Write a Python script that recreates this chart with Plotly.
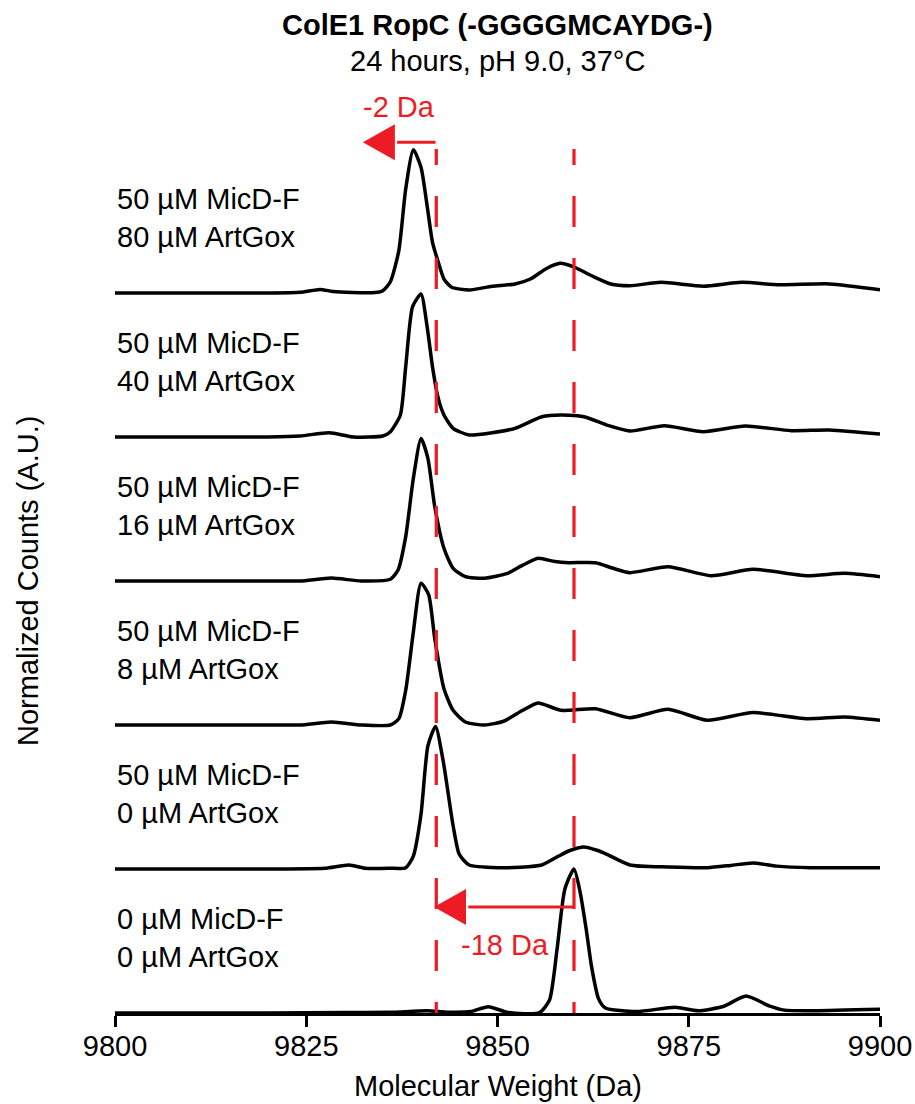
import plotly.graph_objects as go

# ---------------- data ----------------
X_RANGE = [9800, 9900]
TICKS = [9800, 9825, 9850, 9875, 9900]

LABELS = [
    "0 µM MicD-F<br>0 µM ArtGox",
    "50 µM MicD-F<br>0 µM ArtGox",
    "50 µM MicD-F<br>8 µM ArtGox",
    "50 µM MicD-F<br>16 µM ArtGox",
    "50 µM MicD-F<br>40 µM ArtGox",
    "50 µM MicD-F<br>80 µM ArtGox",
]
OFFSETS = [0, 1, 2, 3, 4, 5]

# 0 µM MicD-F / 0 µM ArtGox
mw_0 = [9800, 9810, 9820, 9830, 9836, 9840.8, 9843.5, 9846.5, 9848.8, 9851.4, 9855.5, 9856.8, 9857.8,
        9858.8, 9860.0, 9860.8, 9861.6, 9862.3, 9863.2, 9864.1, 9868.2, 9873.2, 9876.2, 9879.5, 9882.5,
        9885.5, 9887.5, 9891.5, 9900]
int_0 = [0, 0, 0, 0.003, 0.005, 0.015, 0.006, 0.010, 0.044, 0.003, 0.003, 0.09, 0.45,
         0.86, 1.0, 0.84, 0.58, 0.32, 0.10, 0.035, 0.010, 0.040, 0.016, 0.045, 0.118,
         0.050, 0.020, 0.016, 0.026]

# 50 µM MicD-F / 0 µM ArtGox
mw_1 = [9800, 9810, 9820, 9827.4, 9830.6, 9832.7, 9836.0, 9838.0, 9839.0, 9840.0, 9840.9, 9841.9,
        9842.9, 9844.2, 9845.0, 9846.3, 9850.3, 9853.0, 9855.8, 9858.0, 9859.3, 9861.3, 9863.0, 9864.3,
        9867.3, 9872.3, 9877.4, 9880.5, 9883.4, 9886.5, 9890.9, 9900]
int_1 = [0, 0, 0, 0.005, 0.028, 0.005, 0.005, 0.009, 0.09, 0.38, 0.854, 0.99,
         0.75, 0.30, 0.102, 0.028, 0.009, 0.012, 0.028, 0.09, 0.125, 0.153, 0.13, 0.102,
         0.028, 0.014, 0.009, 0.025, 0.042, 0.020, 0.009, 0.009]

# 50 µM MicD-F / 8 µM ArtGox
mw_2 = [9800, 9810, 9820, 9824.2, 9828.3, 9832.2, 9836.0, 9837.1, 9838.0, 9839.0, 9840.0, 9841.0,
        9841.8, 9843.0, 9844.2, 9845.8, 9848.3, 9850.8, 9853.3, 9855.3, 9858.3, 9862.8, 9867.3, 9872.3,
        9877.4, 9883.4, 9890.4, 9895.4, 9900]
int_2 = [0, 0, 0, 0, 0.02, 0, 0, 0.044, 0.241, 0.646, 0.985, 0.905,
         0.599, 0.252, 0.102, 0.021, 0, 0.026, 0.102, 0.153, 0.102, 0.113, 0.051, 0.109,
         0.033, 0.086, 0.044, 0.056, 0.033]

# 50 µM MicD-F / 16 µM ArtGox
mw_3 = [9800, 9810, 9820, 9824.2, 9828.3, 9832.2, 9836.0, 9837.0, 9838.0, 9839.0, 9840.0, 9840.9,
        9841.8, 9843.0, 9844.2, 9845.8, 9848.3, 9851.3, 9853.3, 9855.3, 9857.5, 9859.3, 9862.8, 9865.0,
        9867.3, 9872.3, 9877.9, 9883.4, 9890.4, 9895.4, 9900]
int_3 = [0, 0, 0, 0, 0.02, 0, 0.012, 0.076, 0.308, 0.713, 0.99, 0.852,
         0.516, 0.227, 0.088, 0.030, 0.019, 0.053, 0.11, 0.158, 0.135, 0.127, 0.127, 0.09,
         0.058, 0.099, 0.037, 0.081, 0.037, 0.053, 0.030]

# 50 µM MicD-F / 40 µM ArtGox
mw_4 = [9800, 9810, 9820, 9824.2, 9828.0, 9831.2, 9835.0, 9836.0, 9837.3, 9838.0, 9838.9, 9840.0,
        9840.8, 9841.5, 9842.2, 9843.0, 9844.2, 9846.3, 9849.3, 9852.3, 9855.8, 9858.3, 9861.3, 9864.3,
        9867.3, 9871.8, 9876.9, 9882.4, 9888.4, 9893.4, 9900]
int_4 = [0, 0, 0, 0.007, 0.030, 0, 0.007, 0.037, 0.153, 0.488, 0.905, 0.993,
         0.766, 0.488, 0.28, 0.153, 0.06, 0.014, 0.03, 0.06, 0.141, 0.153, 0.141, 0.083,
         0.042, 0.078, 0.037, 0.076, 0.044, 0.049, 0.021]

# 50 µM MicD-F / 80 µM ArtGox
mw_5 = [9800, 9810, 9820, 9824.2, 9826.8, 9828.5, 9831.0, 9834.0, 9835.0, 9836.0, 9837.1, 9838.0,
        9839.0, 9840.0, 9840.8, 9841.5, 9842.2, 9843.0, 9844.0, 9846.3, 9849.3, 9852.3, 9854.3, 9856.3,
        9858.2, 9860.1, 9862.3, 9864.8, 9867.3, 9871.4, 9876.9, 9881.9, 9886.9, 9893.4, 9900]
int_5 = [0, 0, 0, 0.005, 0.025, 0.010, 0.003, 0.003, 0.016, 0.078, 0.294, 0.722,
         0.995, 0.873, 0.606, 0.352, 0.224, 0.097, 0.040, 0.021, 0.047, 0.063, 0.097, 0.167,
         0.206, 0.178, 0.120, 0.063, 0.051, 0.074, 0.047, 0.074, 0.057, 0.063, 0.023]

MW = [mw_0, mw_1, mw_2, mw_3, mw_4, mw_5]
INT = [int_0, int_1, int_2, int_3, int_4, int_5]

# reference masses and annotation labels
MASS_UNMOD = 9860
MASS_MOD = 9842
SHIFT_TEXT_TOP = "-2 Da"
SHIFT_TEXT_BOT = "-18 Da"
TITLE = "ColE1 RopC (-GGGGMCAYDG-)"
SUBTITLE = "24 hours, pH 9.0, 37°C"
X_TITLE = "Molecular Weight (Da)"
Y_TITLE = "Normalized Counts (A.U.)"

# ---------------- styling / geometry ----------------
RED = "#ED1C24"
FONT = "Arial, Liberation Sans, Helvetica, sans-serif"
FS = 29
M_L, M_R, M_T, M_B = 115, 35, 100, 91
W, H = 915, 1104
PLOT_H = H - M_T - M_B
PLOT_W = W - M_L - M_R
PX_PER_UNIT = 144.0
Y_TOP = PLOT_H / PX_PER_UNIT
DASH_TOP = 6.0          # top of the dashed guide lines (data units)
PX_PER_DA = PLOT_W / (X_RANGE[1] - X_RANGE[0])


def paper_y(px):
    """convert a pixel row of the page into paper coordinates"""
    return (H - M_B - px) / PLOT_H


fig = go.Figure()
for xs, ys, off in zip(MW, INT, OFFSETS):
    fig.add_trace(go.Scatter(
        x=xs, y=[v + off for v in ys], mode="lines",
        line=dict(color="black", width=3.5, shape="spline", smoothing=0.6),
        showlegend=False, hoverinfo="skip"))

annotations = []
for lab, off in zip(LABELS, OFFSETS):
    annotations.append(dict(x=X_RANGE[0], y=off + 0.52, xref="x", yref="y", text=lab,
                            showarrow=False, xanchor="left", yanchor="middle", align="left",
                            font=dict(family=FONT, size=FS, color="black")))

# dashed guide lines: pattern begins with a partial dash at the top
seg = [16]
total = 16
while total < DASH_TOP * PX_PER_UNIT + 40 or len(seg) % 2:
    seg.append(31)
    total += 31
dash_str = ",".join(f"{s}px" for s in seg)

shapes = []
for m in (MASS_MOD, MASS_UNMOD):
    shapes.append(dict(type="line", xref="x", yref="y", x0=m, x1=m, y0=DASH_TOP, y1=0,
                       line=dict(color=RED, width=3.2, dash=dash_str), layer="above"))

HEAD_LEN = 32 / PX_PER_DA
HEAD_HALF = 18 / PX_PER_UNIT


def add_arrow(x_start, x_tip, y):
    base = x_tip + HEAD_LEN
    shapes.append(dict(type="line", xref="x", yref="y", x0=x_start, x1=base + 0.3, y0=y, y1=y,
                       line=dict(color=RED, width=3.2), layer="above"))
    shapes.append(dict(type="path", xref="x", yref="y",
                       path=f"M {x_tip},{y} L {base},{y + HEAD_HALF} L {base},{y - HEAD_HALF} Z",
                       fillcolor=RED, line=dict(width=0), layer="above"))


ARROW_TOP_Y = 6.047
ARROW_BOT_Y = 0.736
add_arrow(MASS_MOD - 0.1, MASS_MOD - 9.6, ARROW_TOP_Y)      # -2 Da arrow
add_arrow(MASS_UNMOD - 0.1, MASS_MOD - 0.3, ARROW_BOT_Y)    # -18 Da arrow

annotations.append(dict(x=9837.1, y=6.29, xref="x", yref="y", text=SHIFT_TEXT_TOP, showarrow=False,
                        xanchor="center", yanchor="middle", font=dict(family=FONT, size=FS, color=RED)))
annotations.append(dict(x=9851.0, y=0.47, xref="x", yref="y", text=SHIFT_TEXT_BOT, showarrow=False,
                        xanchor="center", yanchor="middle", font=dict(family=FONT, size=FS, color=RED)))

# titles
annotations.append(dict(x=0.5, y=paper_y(25), xref="paper", yref="paper",
                        text=f"<b>{TITLE}</b>", showarrow=False, xanchor="center", yanchor="middle",
                        font=dict(family=FONT, size=FS, color="black")))
annotations.append(dict(x=0.5, y=paper_y(61), xref="paper", yref="paper",
                        text=SUBTITLE, showarrow=False, xanchor="center", yanchor="middle",
                        font=dict(family=FONT, size=FS, color="black")))
annotations.append(dict(x=0.5, y=paper_y(1086), xref="paper", yref="paper",
                        text=X_TITLE, showarrow=False, xanchor="center", yanchor="middle",
                        font=dict(family=FONT, size=FS, color="black")))
annotations.append(dict(x=(28 - M_L) / PLOT_W, y=(DASH_TOP / 2) / Y_TOP,
                        xref="paper", yref="paper", text=Y_TITLE, textangle=-90, showarrow=False,
                        xanchor="center", yanchor="middle",
                        font=dict(family=FONT, size=FS, color="black")))

fig.update_layout(
    width=W, height=H, autosize=False,
    margin=dict(l=M_L, r=M_R, t=M_T, b=M_B, pad=0, autoexpand=False),
    paper_bgcolor="white", plot_bgcolor="white",
    shapes=shapes, annotations=annotations,
    xaxis=dict(range=X_RANGE, tickvals=TICKS, ticktext=[str(t) for t in TICKS],
               showline=True, linecolor="black", linewidth=3, ticks="outside", ticklen=11,
               tickwidth=3, tickcolor="black", showgrid=False, zeroline=False,
               automargin=False, ticklabelstandoff=-6,
               tickfont=dict(family=FONT, size=FS, color="black")),
    yaxis=dict(range=[0, Y_TOP], visible=False, showgrid=False, zeroline=False, automargin=False),
)

fig.write_html("out.html")
